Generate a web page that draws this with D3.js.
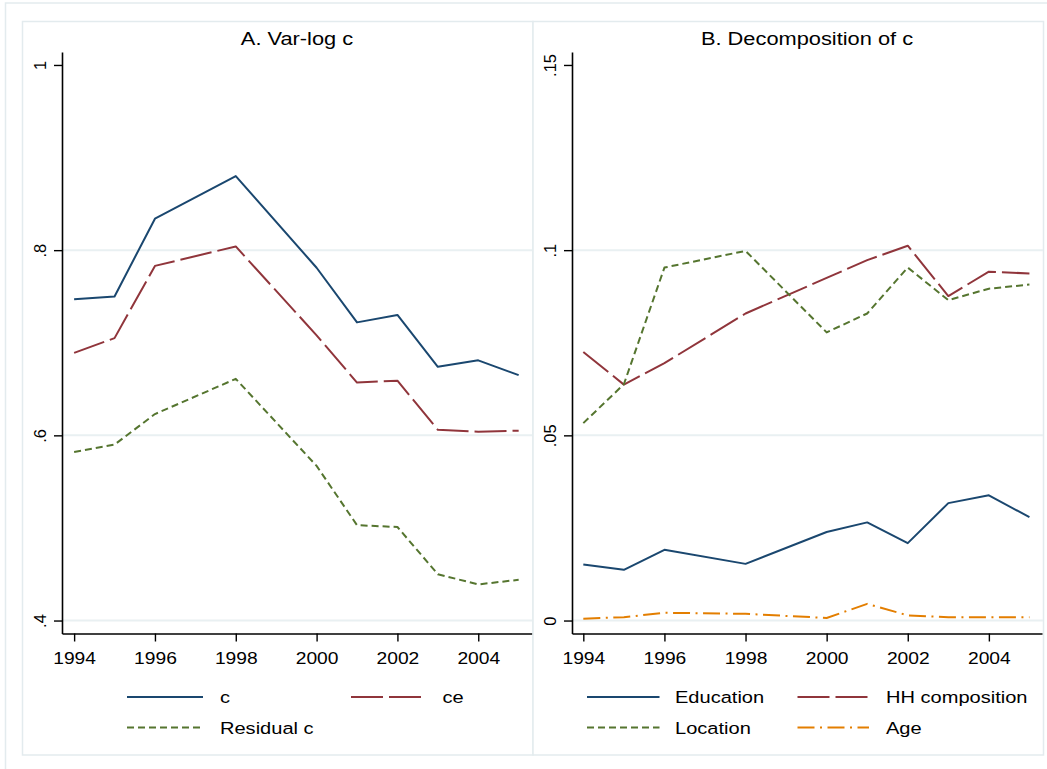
<!DOCTYPE html>
<html><head><meta charset="utf-8">
<script src="https://cdn.jsdelivr.net/npm/d3@7"></script>
<style>
body{margin:0;background:#fff;}
svg{display:block;}
text{font-family:"Liberation Sans",Arial,Helvetica,sans-serif;fill:#000;}
</style>
</head><body>
<svg id="chart" width="1047" height="769"></svg>
<script>
// ---------- data ----------
const years = [1994, 1995, 1996, 1998, 2000, 2001, 2002, 2003, 2004, 2005];
const xTicks = [1994, 1996, 1998, 2000, 2002, 2004];

// Panel A: Var-log c
const titleA = "A. Var-log c";
const cVals     = [0.747, 0.750, 0.834, 0.880, 0.781, 0.722, 0.730, 0.674, 0.681, 0.665];
const ceVals    = [0.689, 0.705, 0.783, 0.804, 0.708, 0.657, 0.659, 0.606, 0.604, 0.605];
const residVals = [0.582, 0.590, 0.623, 0.661, 0.567, 0.503, 0.501, 0.450, 0.439, 0.444];
const yTicksA  = [0.4, 0.6, 0.8, 1];
const yLabelsA = [".4", ".6", ".8", "1"];
const namesA = ["c", "ce", "Residual c"];

// Panel B: Decomposition of c
const titleB = "B. Decomposition of c";
const eduVals = [0.0151, 0.0137, 0.0191, 0.0153, 0.0239, 0.0265, 0.0209, 0.0317, 0.0338, 0.0279];
const hhVals  = [0.0725, 0.0637, 0.0695, 0.0829, 0.0925, 0.0973, 0.1012, 0.0876, 0.0942, 0.0937];
const locVals = [0.0533, 0.0638, 0.0953, 0.0998, 0.0778, 0.0829, 0.0953, 0.0865, 0.0896, 0.0907];
const ageVals = [0.0005, 0.0009, 0.0021, 0.0018, 0.0007, 0.0045, 0.0014, 0.0009, 0.0009, 0.0009];
const yTicksB  = [0, 0.05, 0.1, 0.15];
const yLabelsB = ["0", ".05", ".1", ".15"];
const namesB = ["Education", "HH composition", "Location", "Age"];

// ---------- styles ----------
const NAVY = "#1a476f", MAROON = "#90353b", GREEN = "#55752f", ORANGE = "#e37e00";
const FRAME = "#e3ebee", GRID = "#e9f0f2";
const SX = 1.18; // horizontal stretch of the reference's lettering
const DASH_LONG = "32,6", DASH_SHORT = "7,4", DASH_DOT = "17,5.5,2,5.5";

const svg = d3.select("#chart");

// outer frame
svg.append("rect").attr("x", 5.5).attr("y", 3).attr("width", 1060).attr("height", 790)
  .attr("fill", "none").attr("stroke", FRAME).attr("stroke-width", 1.5);

const panels = [
  {
    title: titleA, frame: [22.5, 21.5, 510.5, 733.5],
    xRange: [62, 532], xDom: [1993.7, 2005.33],
    yRange: [633.5, 52], yDom: [0.386, 1.014],
    yTicks: yTicksA, yLabels: yLabelsA,
    series: [
      {name: namesA[0], values: cVals, color: NAVY, dash: null, row: 0, col: 0},
      {name: namesA[1], values: ceVals, color: MAROON, dash: DASH_LONG, row: 0, col: 1},
      {name: namesA[2], values: residVals, color: GREEN, dash: DASH_SHORT, row: 1, col: 0}
    ],
    legCols: [{x0: 127, x1: 203, tx: 220}, {x0: 351, x1: 422, tx: 442.5}]
  },
  {
    title: titleB, frame: [533, 21.5, 510.5, 733.5],
    xRange: [572, 1042], xDom: [1993.721, 2005.31],
    yRange: [633.5, 52], yDom: [-0.0035, 0.1535],
    yTicks: yTicksB, yLabels: yLabelsB,
    series: [
      {name: namesB[0], values: eduVals, color: NAVY, dash: null, row: 0, col: 0},
      {name: namesB[1], values: hhVals, color: MAROON, dash: DASH_LONG, row: 0, col: 1},
      {name: namesB[2], values: locVals, color: GREEN, dash: DASH_SHORT, row: 1, col: 0},
      {name: namesB[3], values: ageVals, color: ORANGE, dash: DASH_DOT, row: 1, col: 1}
    ],
    legCols: [{x0: 587, x1: 659.5, tx: 675}, {x0: 797.5, x1: 869, tx: 886}]
  }
];

const legRowsY = [697, 727.5];

panels.forEach(p => {
  const g = svg.append("g");
  g.append("rect").attr("x", p.frame[0]).attr("y", p.frame[1])
    .attr("width", p.frame[2]).attr("height", p.frame[3])
    .attr("fill", "#fff").attr("stroke", FRAME).attr("stroke-width", 1.5);

  const x = d3.scaleLinear().domain(p.xDom).range(p.xRange);
  const y = d3.scaleLinear().domain(p.yDom).range(p.yRange);

  // gridlines (not at top tick)
  g.append("g").selectAll("line").data(p.yTicks.slice(0, -1)).join("line")
    .attr("x1", p.xRange[0]).attr("x2", p.xRange[1] + 1)
    .attr("y1", d => y(d)).attr("y2", d => y(d))
    .attr("stroke", GRID).attr("stroke-width", 2);

  // title
  const cx = (p.xRange[0] + p.xRange[1]) / 2;
  g.append("text").attr("transform", `translate(${cx},45) scale(${SX},1)`)
    .attr("text-anchor", "middle").style("font-size", "18.5px").text(p.title);

  // y axis
  const yAxis = d3.axisLeft(y).tickValues(p.yTicks).tickSize(8).tickSizeOuter(0)
    .tickFormat((d, i) => p.yLabels[i]);
  const ya = g.append("g").attr("transform", `translate(${p.xRange[0]},0)`).call(yAxis);
  ya.select(".domain").attr("stroke", "#000").attr("stroke-width", 1.6);
  ya.selectAll(".tick line").attr("stroke", "#000").attr("stroke-width", 1.4);
  ya.selectAll(".tick text").attr("x", null).attr("dy", null)
    .attr("transform", "translate(-16.5,0) rotate(-90)")
    .attr("text-anchor", "middle").attr("fill", "#000")
    .style("font-size", "16.5px").style("font-family", "'Liberation Sans',Arial,sans-serif");

  // x axis
  const xAxis = d3.axisBottom(x).tickValues(xTicks).tickSize(8).tickSizeOuter(0)
    .tickFormat(d3.format("d"));
  const xa = g.append("g").attr("transform", `translate(0,${p.yRange[0]})`).call(xAxis);
  xa.select(".domain").attr("stroke", "#000").attr("stroke-width", 1.6);
  xa.selectAll(".tick line").attr("stroke", "#000").attr("stroke-width", 1.4);
  xa.selectAll(".tick text").attr("y", null).attr("dy", null)
    .attr("transform", `translate(0,30.5) scale(${SX},1)`)
    .attr("text-anchor", "middle").attr("fill", "#000")
    .style("font-size", "16.3px").style("font-family", "'Liberation Sans',Arial,sans-serif");

  // series lines
  const line = d3.line().x((d, i) => x(years[i])).y(d => y(d));
  p.series.forEach(s => {
    g.append("path").datum(s.values).attr("d", line)
      .attr("fill", "none").attr("stroke", s.color).attr("stroke-width", 2)
      .attr("stroke-linejoin", "round")
      .attr("stroke-dasharray", s.dash);
  });

  // legend
  const lg = g.append("g");
  p.series.forEach(s => {
    const c = p.legCols[s.col], ly = legRowsY[s.row];
    lg.append("line").attr("x1", c.x0).attr("x2", c.x1).attr("y1", ly).attr("y2", ly)
      .attr("stroke", s.color).attr("stroke-width", 2).attr("stroke-dasharray", s.dash);
    lg.append("text").attr("transform", `translate(${c.tx},${ly + 6}) scale(${SX},1)`)
      .style("font-size", "17px").text(s.name);
  });
});
</script>
</body></html>
